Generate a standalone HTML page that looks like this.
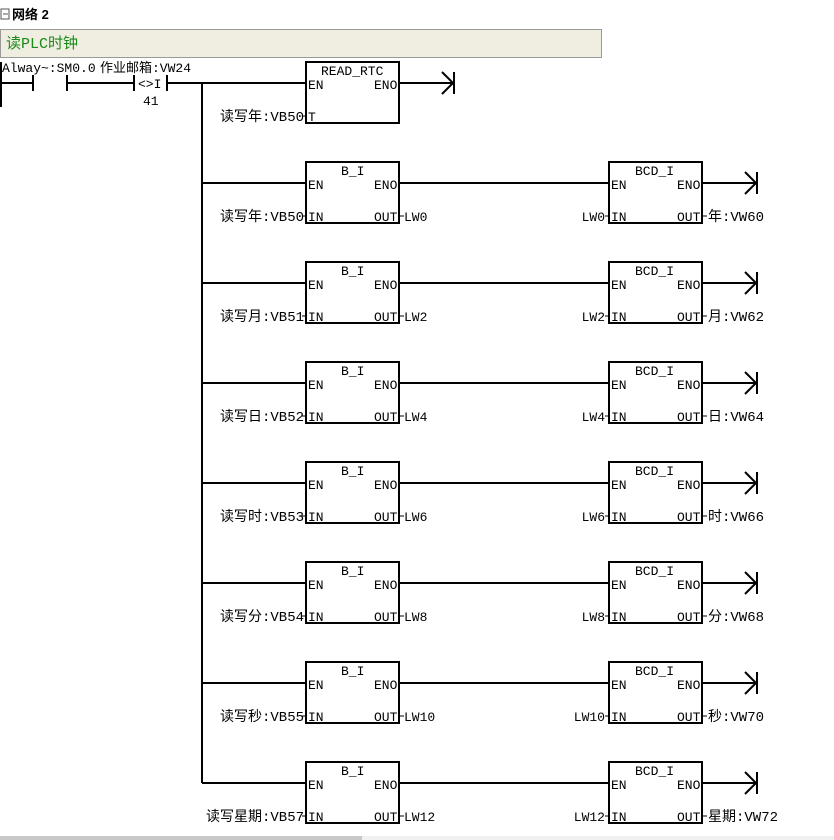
<!DOCTYPE html>
<html><head><meta charset="utf-8"><style>
html,body{margin:0;padding:0;background:#fff;width:834px;height:840px;overflow:hidden}
svg{display:block}
text{font-family:"Liberation Mono","Noto Sans CJK SC",monospace;font-size:13px;fill:#000}
.l{font-size:14px}
</style></head><body>
<svg width="834" height="840" viewBox="0 0 834 840">
<defs>
<g id="arr"><path d="M442,-11 L453,0 L442,11" fill="none" stroke="#000" stroke-width="2"/><line x1="454" y1="-11" x2="454" y2="11" stroke="#000" stroke-width="2"/></g>
</defs>
<!-- header -->
<rect x="1" y="9" width="8" height="10" fill="none" stroke="#555" stroke-width="1"/>
<line x1="3" y1="14" x2="8" y2="14" stroke="#555"/>
<text x="12" y="19" style="font-family:'Liberation Sans','Noto Sans CJK SC',sans-serif;font-weight:bold;font-size:13px">网络 2</text>
<rect x="0.5" y="29.5" width="601" height="28" fill="#f0ede1" stroke="#999"/>
<text x="6" y="48" style="fill:#1a8a1a;font-size:15px">读PLC时钟</text>
<!-- rail & contacts -->
<line x1="1" y1="62" x2="1" y2="107" stroke="#000" stroke-width="2"/>
<text x="2" y="72">Alway~:SM0.0</text>
<text x="100" y="72">作业邮箱:VW24</text>
<g stroke="#000" stroke-width="2">
<line x1="1" y1="83" x2="33" y2="83"/>
<line x1="33" y1="75" x2="33" y2="91"/>
<line x1="67" y1="75" x2="67" y2="91"/>
<line x1="67" y1="83" x2="134" y2="83"/>
<line x1="134" y1="75" x2="134" y2="91"/>
<line x1="167" y1="75" x2="167" y2="91"/>
<line x1="167" y1="83" x2="305" y2="83"/>
<line x1="202" y1="83" x2="202" y2="783"/>
</g>
<text x="138" y="88">&lt;&gt;I</text>
<text x="143" y="105">41</text>
<!-- READ_RTC -->
<rect x="306" y="62" width="93" height="61" fill="#fff" stroke="#000" stroke-width="2"/>
<text x="321" y="75">READ_RTC</text>
<text x="308" y="89">EN</text><text x="374" y="89">ENO</text>
<text x="308" y="121">T</text>
<line x1="400" y1="83" x2="452" y2="83" stroke="#000" stroke-width="2"/>
<use href="#arr" transform="translate(0,83)"/>
<line x1="302" y1="116" x2="305" y2="116" stroke="#000"/>
<text x="304" y="121" text-anchor="end" class="l">读写年:VB50</text>

<!-- rows -->
<g id="rows">
<g transform="translate(0,0)">
<line x1="202" y1="183" x2="305" y2="183" stroke="#000" stroke-width="2"/>
<rect x="306" y="162" width="93" height="61" fill="#fff" stroke="#000" stroke-width="2"/>
<text x="341" y="175">B_I</text><text x="308" y="189">EN</text><text x="374" y="189">ENO</text>
<text x="308" y="221">IN</text><text x="374" y="221">OUT</text>
<line x1="400" y1="183" x2="608" y2="183" stroke="#000" stroke-width="2"/>
<rect x="609" y="162" width="93" height="61" fill="#fff" stroke="#000" stroke-width="2"/>
<text x="635" y="175">BCD_I</text><text x="611" y="189">EN</text><text x="677" y="189">ENO</text>
<text x="611" y="221">IN</text><text x="677" y="221">OUT</text>
<line x1="703" y1="183" x2="756" y2="183" stroke="#000" stroke-width="2"/>
<use href="#arr" transform="translate(303,183)"/>
<g stroke="#000"><line x1="302" y1="216" x2="305" y2="216"/><line x1="400" y1="216" x2="404" y2="216"/><line x1="605" y1="216" x2="608" y2="216"/><line x1="703" y1="216" x2="707" y2="216"/></g>
</g>
</g>
<use href="#rows" transform="translate(0,100)"/>
<use href="#rows" transform="translate(0,200)"/>
<use href="#rows" transform="translate(0,300)"/>
<use href="#rows" transform="translate(0,400)"/>
<use href="#rows" transform="translate(0,500)"/>
<use href="#rows" transform="translate(0,600)"/>

<g class="l">
<text x="304" y="221" text-anchor="end" class="l">读写年:VB50</text><text x="404" y="221">LW0</text><text x="605" y="221" text-anchor="end">LW0</text><text x="708" y="221" class="l">年:VW60</text>
<text x="304" y="321" text-anchor="end" class="l">读写月:VB51</text><text x="404" y="321">LW2</text><text x="605" y="321" text-anchor="end">LW2</text><text x="708" y="321" class="l">月:VW62</text>
<text x="304" y="421" text-anchor="end" class="l">读写日:VB52</text><text x="404" y="421">LW4</text><text x="605" y="421" text-anchor="end">LW4</text><text x="708" y="421" class="l">日:VW64</text>
<text x="304" y="521" text-anchor="end" class="l">读写时:VB53</text><text x="404" y="521">LW6</text><text x="605" y="521" text-anchor="end">LW6</text><text x="708" y="521" class="l">时:VW66</text>
<text x="304" y="621" text-anchor="end" class="l">读写分:VB54</text><text x="404" y="621">LW8</text><text x="605" y="621" text-anchor="end">LW8</text><text x="708" y="621" class="l">分:VW68</text>
<text x="304" y="721" text-anchor="end" class="l">读写秒:VB55</text><text x="404" y="721">LW10</text><text x="605" y="721" text-anchor="end">LW10</text><text x="708" y="721" class="l">秒:VW70</text>
<text x="304" y="821" text-anchor="end" class="l">读写星期:VB57</text><text x="404" y="821">LW12</text><text x="605" y="821" text-anchor="end">LW12</text><text x="708" y="821" class="l">星期:VW72</text>
</g>
<rect x="0" y="836" width="362" height="4" fill="#c8c8c8"/>
<rect x="362" y="836" width="472" height="4" fill="#f0f0f0"/>
</svg>
</body></html>
